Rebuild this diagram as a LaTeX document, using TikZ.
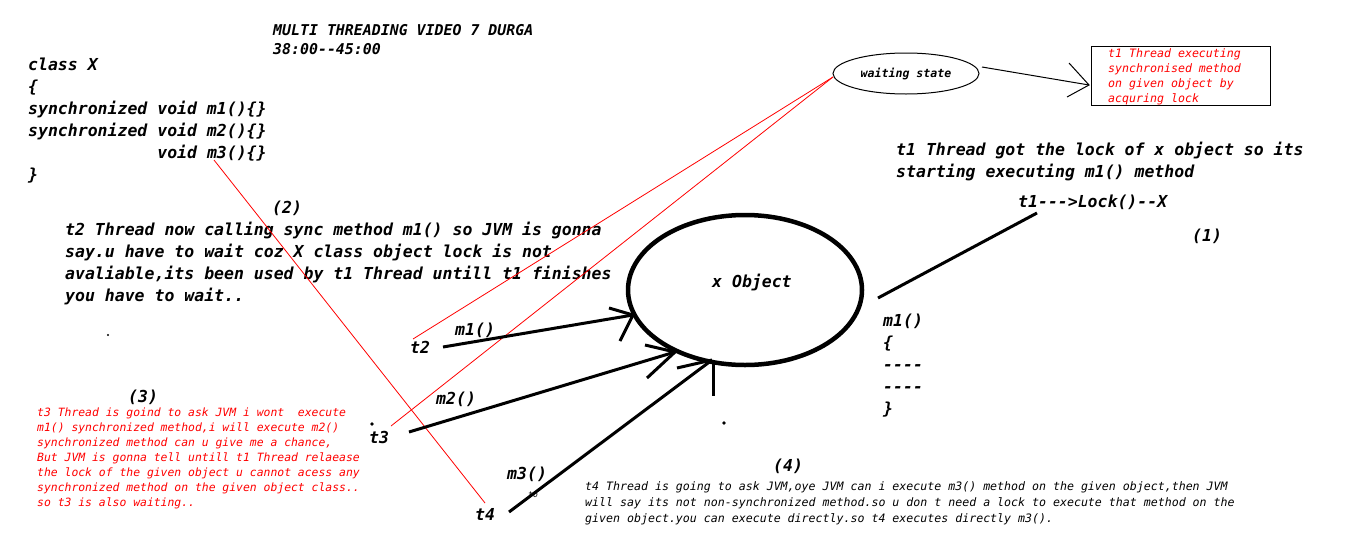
\documentclass[tikz,border=0pt]{standalone}
\usepackage{fontspec}
\newfontfamily\mono{DejaVu Sans Mono}
\usetikzlibrary{shapes.geometric}
\tikzset{
  bk/.style={anchor=base west, inner sep=0pt, align=left, text=black,
    font=\mono\bfseries\itshape\fontsize{16.5}{22}\selectfont},
  ttl/.style={anchor=base west, inner sep=0pt, align=left,
    font=\mono\bfseries\itshape\fontsize{14.9}{19}\selectfont},
  rd/.style={anchor=base west, inner sep=0pt, align=left, text=red,
    font=\mono\itshape\fontsize{11.4}{15}\selectfont},
  bp/.style={anchor=base west, inner sep=0pt, align=left, text=black,
    font=\mono\itshape\fontsize{11.6}{16}\selectfont},
  boxtxt/.style={anchor=base west, inner sep=0pt, align=left, text=red,
    font=\mono\itshape\fontsize{11.6}{15}\selectfont},
  thk/.style={draw=black, line width=3pt},
  rl/.style={draw=red, line width=0.8pt},
  thin/.style={draw=black, line width=1pt},
}
\begin{document}
\begin{tikzpicture}[x=1pt,y=-1pt]
\useasboundingbox[fill=white] (0,0) rectangle (1360,549);

% multi-line nodes: base anchor = baseline of the last line
% title and code
\node[ttl] (title) at (273,54) {MULTI THREADING VIDEO 7 DURGA\\38:00-{}-45:00};
\node[bk] (code) at (28,180) {class X\\\{\\synchronized void m1()\{\}\\synchronized void m2()\{\}\\\phantom{synchronized} void m3()\{\}\\\}};

% (2)
\node[bk] (n2) at (272,213) {(2)};
\node[bk] (p2) at (65,301) {t2 Thread now calling sync method m1() so JVM is gonna\\say.u have to wait coz X class object lock is not\\avaliable,its been used by t1 Thread untill t1 finishes\\you have to wait..};

% (3)
\node[bk] (n3) at (128,402) {(3)};
\node[rd] (p3) at (37,506) {t3 Thread is goind to ask JVM i wont\ \ execute\\m1() synchronized method,i will execute m2()\\synchronized method can u give me a chance,\\But JVM is gonna tell untill t1 Thread relaease\\the lock of the given object u cannot acess any\\synchronized method on the given object class..\\so t3 is also waiting..};

% (4)
\node[bk] (n4) at (773,471) {(4)};
\node[bp] (p4) at (585,522) {t4 Thread is going to ask JVM,oye JVM can i execute m3() method on the given object,then JVM\\will say its not non-synchronized method.so u don t need a lock to execute that method on the\\given object.you can execute directly.so t4 executes directly m3().};

% right side
\node[bk] (p1) at (896,177) {t1 Thread got the lock of x object so its\\starting executing m1() method};
\node[bk] (lock) at (1018,207) {t1-{}-{}->Lock()-{}-X};
\node[bk] (n1) at (1192,241) {(1)};
\node[bk] (m1body) at (883,414) {m1()\\\{\\-{}-{}-{}-\\-{}-{}-{}-\\\}};

% waiting state and box
\node[ellipse, draw, line width=1pt, minimum width=146pt, minimum height=41pt, inner sep=0pt,
  font=\mono\bfseries\itshape\fontsize{11.6}{14}\selectfont] (ws) at (906,73.5) {waiting state};
\node[draw, line width=1pt, minimum width=179pt, minimum height=59pt, anchor=north west, inner sep=0pt] (box) at (1091,46) {};
\node[boxtxt] (boxt) at (1108,102) {t1 Thread executing\\synchronised method\\on given object by\\acquring lock};
\coordinate (wsr) at (982,67);
\coordinate (boxtip) at (1089,85);
\draw[thin] (wsr) -- (boxtip);
\draw[thin] (boxtip) ++(-20,-22) -- (boxtip) -- ++(-22,12);

% x object
\node[ellipse, draw, line width=4.5pt, minimum width=234pt, minimum height=150pt, inner sep=0pt] (xobj) at (745,290) {};
\node[bk] (xobjt) at (712,287) {x Object};

% thread labels
\node[bk] (t2) at (410,353) {t2};
\node[bk] (t3) at (369,443) {t3};
\node[bk] (t4) at (475,520) {t4};
\node[bk] (lm1) at (455,335) {m1()};
\node[bk] (lm2) at (436,404) {m2()};
\node[bk] (lm3) at (507,479) {m3()};
\node[anchor=base west, inner sep=0pt, font=\mono\itshape\fontsize{8}{9}\selectfont] (to) at (528,497) {to};

% red lines
\coordinate (wsl) at (833,77);
\coordinate (r1) at (413,339);
\coordinate (r2) at (391,426);
\coordinate (m3s) at (214,160);
\coordinate (r3) at (485,503);
\draw[rl] (wsl) -- (r1);
\draw[rl] (wsl) -- (r2);
\draw[rl] (m3s) -- (r3);

% arrows into x object
\coordinate (s2) at (443,347); \coordinate (tip2) at (633,315);
\coordinate (s3) at (409,432); \coordinate (tip3) at (675,352);
\coordinate (s4) at (509,512); \coordinate (tip4) at (712,360);
\draw[thk] (s2) -- (tip2);
\draw[thk] (tip2) ++(-24,-7) -- (tip2) -- ++(-13,26);
\draw[thk] (s3) -- (tip3);
\draw[thk] (tip3) ++(-30,-7) -- (tip3) -- ++(-28,26);
\draw[thk] (s4) -- (tip4);
\draw[thk] (tip4) ++(-35,8) -- (tip4);
\draw[thk] (713,362) -- (713,396);

% lock line
\coordinate (lk1) at (878,298);
\coordinate (lk2) at (1037,213);
\draw[thk] (lk1) -- (lk2);

% dots
\fill (108,335) circle (1.2);
\fill (372,424) circle (1.8);
\fill (724,423) circle (1.8);
\end{tikzpicture}
\end{document}
